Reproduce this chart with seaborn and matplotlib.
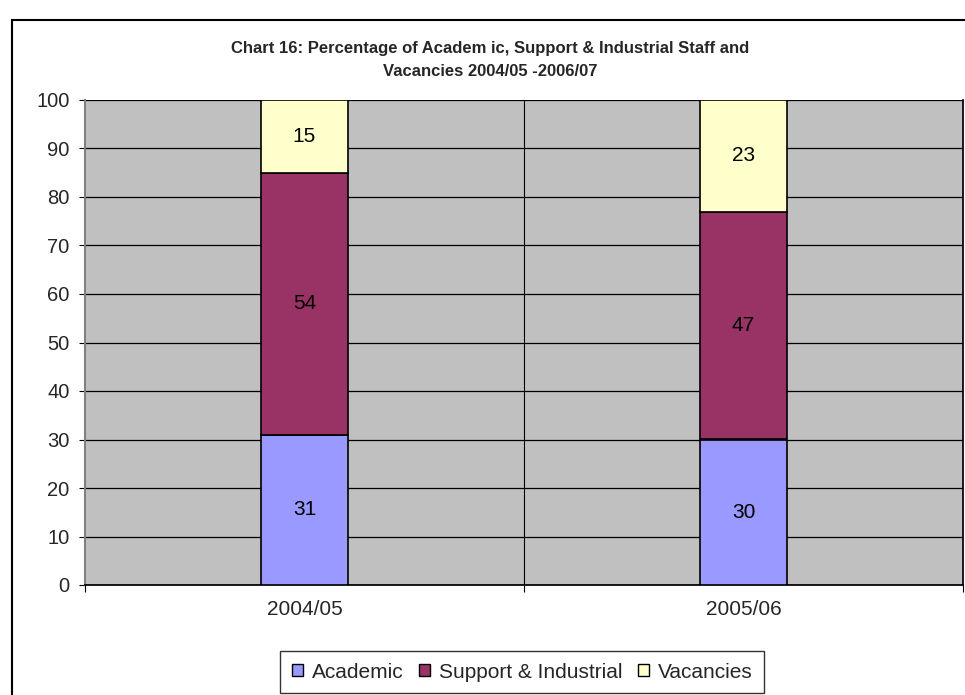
import pandas as pd
import matplotlib.pyplot as plt
import seaborn as sns
from matplotlib.patches import Rectangle, Patch

years = ['2004/05', '2005/06']
academic = [31, 30]
support = [54, 47]
vacancies = [15, 23]

series_names = ['Academic', 'Support & Industrial', 'Vacancies']
series_colors = ['#9999FF', '#993366', '#FFFFCC']

sns.set_theme(style='white')
plt.rcParams['font.family'] = ['Liberation Sans', 'DejaVu Sans']

fig = plt.figure(figsize=(9.65, 6.95), dpi=100)
ax = fig.add_axes([85 / 965, 1 - 585 / 695, 878 / 965, 485 / 695])
ax.set_facecolor('#C0C0C0')

# stacked bars: each series sits on the sum of the ones below
bottom = [0, 0]
for name, vals, col in zip(series_names, [academic, support, vacancies], series_colors):
    df = pd.DataFrame({'Year': years, 'Value': vals})
    sns.barplot(data=df, x='Year', y='Value', color=col, width=0.2, errorbar=None,
                bottom=bottom, edgecolor='black', linewidth=1.2, saturation=1, ax=ax, zorder=3)
    bottom = [b + v for b, v in zip(bottom, vals)]

for cont in ax.containers:
    ax.bar_label(cont, label_type='center', fontsize=15, color='black')

ax.set_ylim(0, 100)
ax.set_xlim(-0.5, 1.5)
ax.set_yticks(range(0, 101, 10))
ax.yaxis.grid(True, color='black', linewidth=0.9, zorder=1)
ax.set_axisbelow(True)
ax.axvline(0.5, color='black', linewidth=0.8, zorder=1)

ax.set_xticks([-0.5, 0.5, 1.5], minor=True)
ax.tick_params(axis='x', which='minor', length=5, width=0.8, color='black', direction='out', bottom=True)
ax.tick_params(axis='x', which='major', length=0, labelsize=15, pad=11)
ax.tick_params(axis='y', length=4.5, width=0.8, color='black', direction='out', left=True, labelsize=14.5, pad=6.5)
ax.set_xlabel('')
ax.set_ylabel('')

for s in ['left', 'bottom', 'right']:
    ax.spines[s].set_visible(True)
ax.spines['left'].set_color('#808080')
ax.spines['left'].set_linewidth(1.5)
ax.spines['bottom'].set_color('black')
ax.spines['right'].set_color('black')
ax.spines['top'].set_visible(False)

fig.text(490 / 965, 1 - 48 / 695, 'Chart 16: Percentage of Academ ic, Support & Industrial Staff and',
         ha='center', va='center', fontsize=12, fontweight='bold')
fig.text(490 / 965, 1 - 72 / 695, 'Vacancies 2004/05 -2006/07',
         ha='center', va='center', fontsize=12, fontweight='bold')

handles = [Patch(facecolor=c, edgecolor='black', linewidth=1) for c in series_colors]
leg = fig.legend(handles, series_names, loc='center', bbox_to_anchor=(522 / 965, 1 - 672 / 695),
                 ncol=3, frameon=True, fontsize=15, handlelength=0.55, handleheight=0.55,
                 handletextpad=0.4, columnspacing=0.75, borderpad=0.55, borderaxespad=0, fancybox=False)
leg.get_frame().set_edgecolor('black')
leg.get_frame().set_linewidth(1)

fig.patches.append(Rectangle((12 / 965, -0.1), 1.2, 1.1 - 20 / 695, transform=fig.transFigure,
                             fill=False, edgecolor='black', linewidth=1.5))

plt.savefig('out.png', dpi=100)
